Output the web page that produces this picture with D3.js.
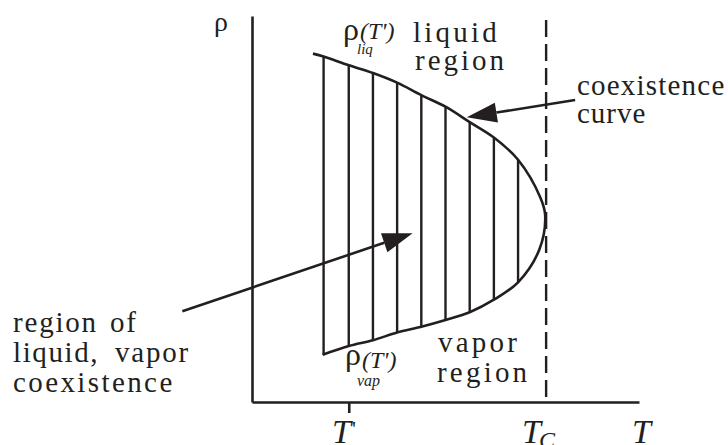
<!DOCTYPE html>
<html>
<head>
<meta charset="utf-8">
<script src="https://cdn.jsdelivr.net/npm/d3@7"></script>
<style>body { margin: 0; background: #fff; }</style>
</head>
<body>
<svg id="chart" width="728" height="445"></svg>
<script>
// upper branch (liquid density), left to right
var tLiq = [0.63, 0.74, 1.00, 1.25, 1.50, 1.75, 2.00, 2.25, 2.50, 2.75, 2.98];
var rhoLiq = [3.61, 3.58, 3.49, 3.41, 3.31, 3.18, 3.06, 2.90, 2.74, 2.51, 2.12];
// critical point
var tTip = 3.03, rhoTip = 1.94;
// lower branch (vapor density), right to left
var tVap = [2.97, 2.75, 2.50, 2.25, 2.00, 1.75, 1.50, 1.25, 1.00, 0.73];
var rhoVap = [1.58, 1.24, 1.06, 0.93, 0.85, 0.78, 0.72, 0.64, 0.58, 0.49];
// tie lines (vertical hatching)
var tieT = [0.74, 1.00, 1.25, 1.50, 1.75, 2.00, 2.25, 2.50, 2.75];
var tieLiq = [3.58, 3.49, 3.41, 3.31, 3.18, 3.06, 2.90, 2.74, 2.51];
var tieVap = [0.49, 0.58, 0.64, 0.72, 0.78, 0.85, 0.93, 1.06, 1.24];
var tPrime = 1.0, tC = 3.04;

var ink = "#231f20";
var fam = "'Liberation Serif', monospace";
var svg = d3.select("#chart");

var x = d3.scaleLinear().domain([0, 4]).range([252, 639]);
var y = d3.scaleLinear().domain([0, 4]).range([402, 16]);

// axes
var xAxis = d3.axisBottom(x).tickValues([tPrime]).tickSize(11).tickSizeOuter(0).tickFormat("");
var gx = svg.append("g").attr("transform", "translate(0," + y(0) + ")").call(xAxis);
var yAxis = d3.axisLeft(y).tickValues([]).tickSizeOuter(0);
var gy = svg.append("g").attr("transform", "translate(" + x(0) + ",0)").call(yAxis);
[gx, gy].forEach(function(g){
  g.selectAll("path, line").attr("stroke", ink).attr("stroke-width", 2.6);
});

// critical temperature (dashed)
svg.append("line")
  .attr("x1", x(tC)).attr("x2", x(tC))
  .attr("y1", 20).attr("y2", y(0))
  .attr("stroke", ink).attr("stroke-width", 2.4)
  .attr("stroke-dasharray", "17,7");

// tie lines
svg.selectAll("line.tie").data(tieT).enter().append("line")
  .attr("class", "tie")
  .attr("x1", function(d){ return x(d); })
  .attr("x2", function(d){ return x(d); })
  .attr("y1", function(d, i){ return y(tieLiq[i]); })
  .attr("y2", function(d, i){ return y(tieVap[i]); })
  .attr("stroke", ink).attr("stroke-width", 2.4);

// coexistence curve
var pts = [];
tLiq.forEach(function(t, i){ pts.push([t, rhoLiq[i]]); });
pts.push([tTip, rhoTip]);
tVap.forEach(function(t, i){ pts.push([t, rhoVap[i]]); });
var line = d3.line()
  .x(function(d){ return x(d[0]); })
  .y(function(d){ return y(d[1]); })
  .curve(d3.curveCatmullRom.alpha(0.5));
svg.append("path").datum(pts)
  .attr("d", line)
  .attr("fill", "none").attr("stroke", ink).attr("stroke-width", 2.6);

// arrows
function arrow(from, to){
  var x0 = x(from[0]), y0 = y(from[1]), x1 = x(to[0]), y1 = y(to[1]);
  var a = Math.atan2(y1 - y0, x1 - x0), len = 30, hw = 10;
  var bx = x1 - len * Math.cos(a), by = y1 - len * Math.sin(a);
  svg.append("line")
    .attr("x1", x0).attr("y1", y0).attr("x2", bx).attr("y2", by)
    .attr("stroke", ink).attr("stroke-width", 2.6);
  svg.append("path")
    .attr("d", "M" + x1 + "," + y1 +
      "L" + (bx - hw * Math.sin(a)) + "," + (by + hw * Math.cos(a)) +
      "L" + (bx + hw * Math.sin(a)) + "," + (by - hw * Math.cos(a)) + "Z")
    .attr("fill", ink);
}
arrow([3.34, 3.13], [2.22, 2.95]);
arrow([-0.72, 0.94], [1.66, 1.75]);

// text
function label(tx, ty, str, size, spacing, italic){
  var t = svg.append("text")
    .attr("x", tx).attr("y", ty)
    .style("font-family", fam)
    .attr("font-size", size)
    .style("fill", ink)
    .text(str);
  if (spacing) t.style("letter-spacing", spacing + "px");
  if (italic) t.style("font-style", "italic");
  return t;
}
label(214, 31, "ρ", 28);

label(343, 40, "ρ", 32);
label(360, 39, "(T')", 24, 0, true);
label(357, 54, "liq", 15, 0, true);
label(413, 42, "liquid", 29, 3.2);
label(415, 70, "region", 29, 3);

label(577, 95, "coexistence", 29, 1.2);
label(577, 123, "curve", 29, 1);

label(13, 332, "region", 29, 1.8);
label(110, 332, "of", 29, 1.8);
label(13, 362, "liquid,", 29, 1.6);
label(115, 362, "vapor", 29, 1.8);
label(13, 392, "coexistence", 29, 2.4);

label(345, 365, "ρ", 32);
label(362, 368, "(T')", 24, 0, true);
label(357, 386, "vap", 16, 0, true);
label(438, 352, "vapor", 29, 3.2);
label(437, 382, "region", 29, 3.2);

label(332, 443, "T", 34, 0, true);
label(352, 436, "'", 22);
label(522, 443, "T", 34, 0, true);
label(539, 448, "C", 24, 0, true);
label(632, 443, "T", 34, 0, true);
</script>
</body>
</html>
